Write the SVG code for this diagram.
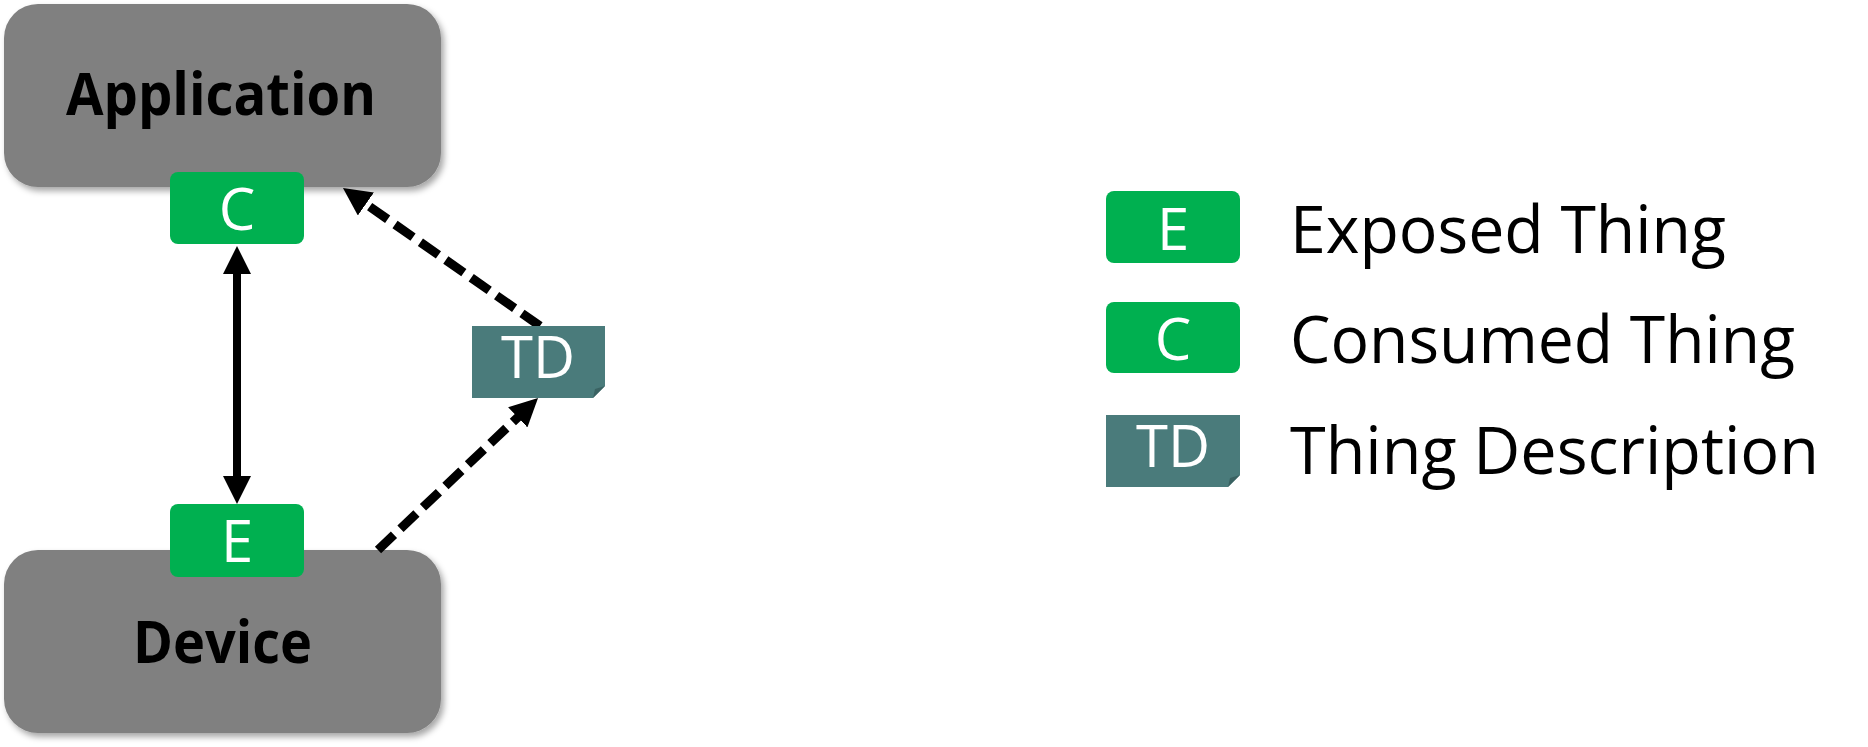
<svg xmlns="http://www.w3.org/2000/svg" width="1868" height="747" viewBox="0 0 1868 747">
  <style>
    .box { fill: #808080; }
    .boxlabel { font-family: "Open Sans", "Liberation Sans", sans-serif; font-weight: 700; font-size: 59px; fill: #000; text-anchor: middle; }
    .badge { fill: #00B050; }
    .td { fill: #4A7B7B; }
    .fold { fill: #3A6262; }
    .badgetext { font-family: "Open Sans", "Liberation Sans", sans-serif; font-size: 58px; fill: #fff; text-anchor: middle; }
    .legendtext { font-family: "Open Sans", "Liberation Sans", sans-serif; font-size: 65px; fill: #000; }
    .solid { stroke: #000; stroke-width: 8; fill: none; }
    .dashed { stroke: #000; stroke-width: 9; fill: none; stroke-dasharray: 22 9; }
  </style>
  <defs>
    <filter id="shadow" x="-10%" y="-10%" width="125%" height="130%">
      <feDropShadow dx="3" dy="4" stdDeviation="3" flood-color="#000" flood-opacity="0.35"/>
    </filter>
    <marker id="arrow" viewBox="0 0 28 28" markerWidth="28" markerHeight="28" refX="10" refY="14" orient="auto-start-reverse" markerUnits="userSpaceOnUse">
      <path d="M0,0 L28,14 L0,28 z" fill="#000"/>
    </marker>
  </defs>

  <g id="application">
    <rect class="box" x="4" y="4" width="437" height="183" rx="34" ry="34" filter="url(#shadow)"/>
    <text class="boxlabel" x="221" y="115" textLength="310" lengthAdjust="spacingAndGlyphs">Application</text>
  </g>

  <g id="device">
    <rect class="box" x="4" y="550" width="437" height="183" rx="34" ry="34" filter="url(#shadow)"/>
    <text class="boxlabel" x="222.5" y="663" textLength="179" lengthAdjust="spacingAndGlyphs">Device</text>
  </g>

  <g id="connectors">
    <line class="solid" x1="237" y1="264" x2="237" y2="486" marker-start="url(#arrow)" marker-end="url(#arrow)"/>
    <line class="dashed" x1="540" y1="326" x2="357.7" y2="198.3" marker-end="url(#arrow)"/>
    <line class="dashed" x1="378" y1="550" x2="525" y2="410.4" marker-end="url(#arrow)"/>
  </g>

  <g id="consumed-thing">
    <rect class="badge" x="170" y="172" width="134" height="72" rx="8" ry="8"/>
    <text class="badgetext" x="237" y="230">C</text>
  </g>

  <g id="exposed-thing">
    <rect class="badge" x="170" y="504" width="134" height="73" rx="8" ry="8"/>
    <text class="badgetext" x="237" y="562">E</text>
  </g>

  <g id="thing-description">
    <path class="td" d="M472,326 H605 V386 L593,398 H472 z"/>
    <path class="fold" d="M605,386 L593,398 L595,389 z"/>
    <text class="badgetext" x="538" y="378">TD</text>
  </g>

  <g id="legend-exposed">
    <rect class="badge" x="1106" y="191" width="134" height="72" rx="8" ry="8"/>
    <text class="badgetext" x="1173" y="250">E</text>
    <text class="legendtext" x="1290" y="253" textLength="436" lengthAdjust="spacingAndGlyphs">Exposed Thing</text>
  </g>

  <g id="legend-consumed">
    <rect class="badge" x="1106" y="302" width="134" height="71" rx="8" ry="8"/>
    <text class="badgetext" x="1173" y="360">C</text>
    <text class="legendtext" x="1290" y="363" textLength="505" lengthAdjust="spacingAndGlyphs">Consumed Thing</text>
  </g>

  <g id="legend-td">
    <path class="td" d="M1106,415 H1240 V475 L1228,487 H1106 z"/>
    <path class="fold" d="M1240,475 L1228,487 L1230,478 z"/>
    <text class="badgetext" x="1173" y="467">TD</text>
    <text class="legendtext" x="1290" y="474" textLength="529" lengthAdjust="spacingAndGlyphs">Thing Description</text>
  </g>
</svg>
